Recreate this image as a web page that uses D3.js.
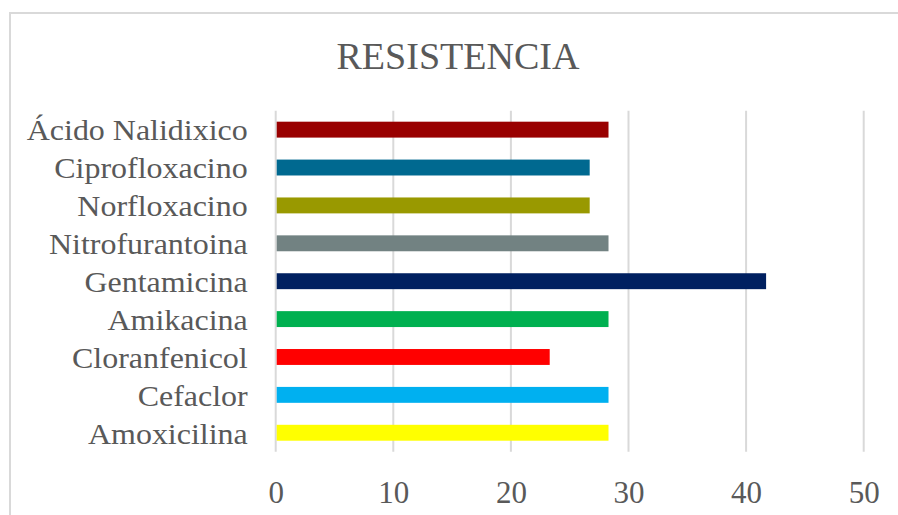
<!DOCTYPE html>
<html><head><meta charset="utf-8">
<script src="https://cdn.jsdelivr.net/npm/d3@7"></script>
<style>html,body{margin:0;padding:0;background:#fff;}svg{display:block;}</style>
</head><body><svg id="c" width="898" height="515"></svg>
<script>
const categories = ["Ácido Nalidixico","Ciprofloxacino","Norfloxacino","Nitrofurantoina","Gentamicina","Amikacina","Cloranfenicol","Cefaclor","Amoxicilina"];
const values = [28.3, 26.7, 26.7, 28.3, 41.7, 28.3, 23.3, 28.3, 28.3];
const colors = ["#990000","#006990","#999900","#728282","#002060","#00B050","#FF0000","#00B0F0","#FFFF00"];
const xTicks = [0,10,20,30,40,50];
const title = "RESISTENCIA";

(function(){
const svg = d3.select("#c");
const font = "'Liberation Serif','Times New Roman',serif";
svg.append("rect").attr("x",10).attr("y",13).attr("width",900).attr("height",520)
  .attr("fill","#fff").attr("stroke","#d9d9d9").attr("stroke-width",2);

const pL = 275.7, pR = 863.7, pT = 110.7, pB = 451.7;
const x = d3.scaleLinear().domain([0,50]).range([pL,pR]);
const y = d3.scaleBand().domain(categories).range([pT,pB]).paddingInner(0.58).paddingOuter(0.29);

svg.append("text").attr("x",458).attr("y",69).attr("text-anchor","middle")
  .attr("font-family",font).attr("font-size",37).attr("fill","#595959")
  .attr("textLength",243).attr("lengthAdjust","spacingAndGlyphs").text(title);

const grid = svg.append("g");
grid.selectAll("line").data(xTicks).join("line")
  .attr("x1",d=>x(d)).attr("x2",d=>x(d)).attr("y1",pT).attr("y2",pB)
  .attr("stroke","#d9d9d9").attr("stroke-width",2);

svg.append("g").selectAll("rect").data(categories).join("rect")
  .attr("x",x(0)+1).attr("y",d=>y(d)).attr("height",y.bandwidth())
  .attr("width",(d,i)=>x(values[i])-x(0)-1).attr("fill",(d,i)=>colors[i]);

const yAxis = svg.append("g").attr("transform",`translate(${pL},0)`)
  .call(d3.axisLeft(y).tickSize(0).tickPadding(28));
yAxis.select(".domain").remove();
yAxis.selectAll("text").attr("font-family",font).attr("font-size",30).attr("fill","#595959").attr("dy","0.36em")
  .each(function(){
    const t = d3.select(this);
    const w = this.getComputedTextLength();
    t.attr("textLength", w*1.065).attr("lengthAdjust","spacingAndGlyphs");
  });

const xAxis = svg.append("g").attr("transform",`translate(0,${pB})`)
  .call(d3.axisBottom(x).tickValues(xTicks).tickSize(0).tickPadding(29).tickFormat(d3.format("d")));
xAxis.select(".domain").remove();
xAxis.selectAll("text").attr("font-family",font).attr("font-size",31).attr("fill","#595959").attr("dy","0.71em");
})();
</script></body></html>
